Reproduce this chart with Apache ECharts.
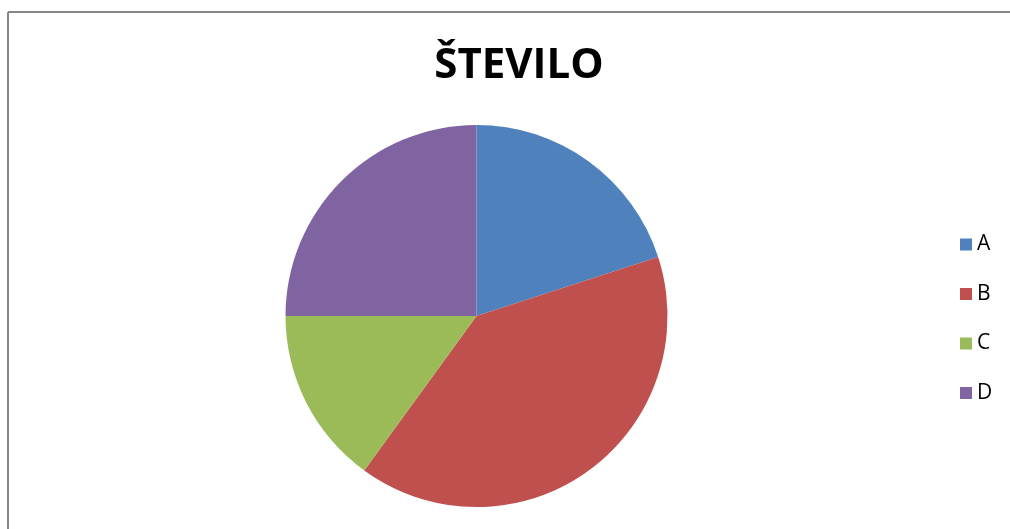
<!DOCTYPE html>
<html>
<head>
<meta charset="utf-8">
<script src="https://cdn.jsdelivr.net/npm/echarts@6/dist/echarts.min.js"></script>
<style>
  html, body { margin: 0; padding: 0; background: #fff; }
  #main { width: 1010px; height: 529px; }
</style>
</head>
<body>
<div id="main"></div>
<script>
var categories = ["A", "B", "C", "D"];
var values = [20, 40, 15, 25];
var colors = ["#4F81BD", "#C0504D", "#9BBB59", "#8064A2"];

var pieData = [];
for (var i = 0; i < categories.length; i++) {
  pieData.push({ name: categories[i], value: values[i] });
}

var myChart = echarts.init(document.getElementById("main"));
var option = {
  animation: false,
  color: colors,
  title: {
    text: "ŠTEVILO",
    left: 514,
    top: 40,
    textAlign: "center",
    textStyle: {
      fontFamily: "Open Sans",
      fontWeight: "bold",
      fontSize: 42,
      color: "#000"
    }
  },
  legend: {
    orient: "vertical",
    left: 955,
    top: 229,
    itemWidth: 12,
    itemHeight: 12,
    itemGap: 28.5,
    itemTextGap: 7,
    icon: "rect",
    data: categories,
    textStyle: {
      fontFamily: "Open Sans",
      fontSize: 21,
      lineHeight: 20,
      color: "#000"
    }
  },
  graphic: [
    {
      type: "line",
      shape: { x1: 8, y1: 12, x2: 1010, y2: 12 },
      style: { stroke: "#868686", lineWidth: 2 }
    },
    {
      type: "line",
      shape: { x1: 8, y1: 12, x2: 8, y2: 529 },
      style: { stroke: "#868686", lineWidth: 2 }
    }
  ],
  series: [
    {
      name: "ŠTEVILO",
      type: "pie",
      center: [476.5, 316],
      radius: 191,
      startAngle: 90,
      clockwise: true,
      label: { show: false },
      labelLine: { show: false },
      itemStyle: { borderWidth: 0 },
      data: pieData
    }
  ]
};
myChart.setOption(option);
</script>
</body>
</html>
